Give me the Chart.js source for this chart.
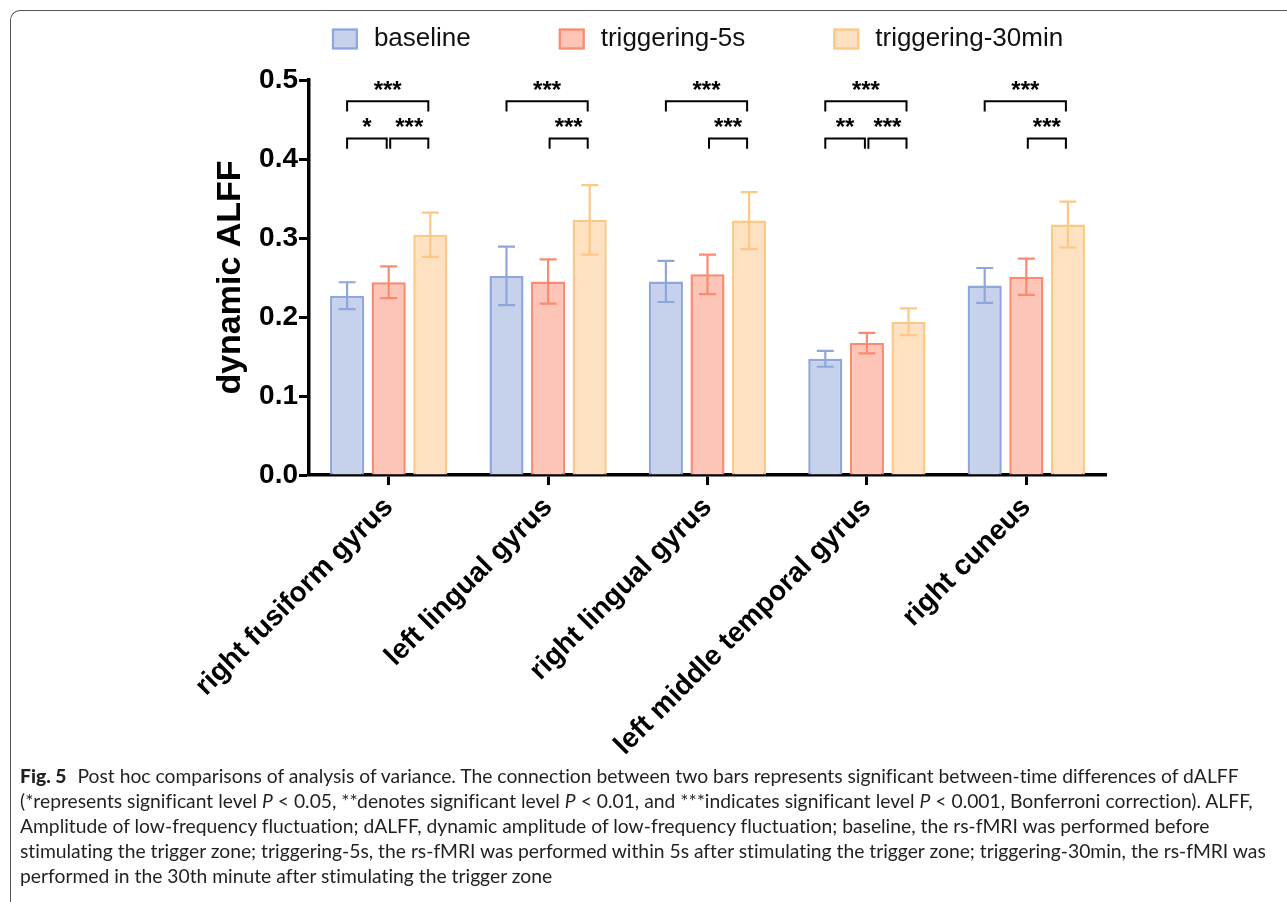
<!DOCTYPE html>
<html>
<head>
<meta charset="utf-8">
<script src="https://cdn.jsdelivr.net/npm/chart.js@4"></script>
<style>
  html, body { margin:0; padding:0; background:#fff; }
  body { width:1287px; height:902px; position:relative; overflow:hidden; }
  #frame { position:absolute; left:10px; top:10px; width:1300px; height:900px;
           border-top:1.5px solid #555; border-left:1.5px solid #555; border-top-left-radius:10px; border-bottom-left-radius:10px; }
  #wrap { position:absolute; left:0; top:0; width:1287px; height:770px; }
  #caption { position:absolute; left:20px; top:763px; font-family:Lato, "Liberation Sans", sans-serif;
             font-size:19.3px; line-height:25px; color:#231f20; white-space:nowrap;
             font-variant-ligatures:none; }
  #caption b { font-weight:900; margin-right:6px; }
</style>
</head>
<body>
<div id="frame"></div>
<div id="wrap"><canvas id="chart"></canvas></div>
<div id="caption">
<b>Fig. 5</b> Post hoc comparisons of analysis of variance. The connection between two bars represents significant between-time differences of dALFF<br>
(*represents significant level <i>P</i> &lt; 0.05, **denotes significant level <i>P</i> &lt; 0.01, and ***indicates significant level <i>P</i> &lt; 0.001, Bonferroni correction). ALFF,<br>
Amplitude of low-frequency fluctuation; dALFF, dynamic amplitude of low-frequency fluctuation; baseline, the rs-fMRI was performed before<br>
stimulating the trigger zone; triggering-5s, the rs-fMRI was performed within 5s after stimulating the trigger zone; triggering-30min, the rs-fMRI was<br>
performed in the 30th minute after stimulating the trigger zone
</div>
<script>
// ====== DATA ======
const categories = ['right fusiform gyrus', 'left lingual gyrus', 'right lingual gyrus', 'left middle temporal gyrus', 'right cuneus'];
const seriesNames = ['baseline', 'triggering-5s', 'triggering-30min'];

const baseline    = [0.227, 0.252, 0.245, 0.147, 0.240];
const baselineErr = [0.017, 0.037, 0.026, 0.010, 0.022];
const trig5s      = [0.244, 0.245, 0.254, 0.167, 0.251];
const trig5sErr   = [0.020, 0.028, 0.025, 0.013, 0.023];
const trig30      = [0.304, 0.323, 0.322, 0.194, 0.317];
const trig30Err   = [0.028, 0.044, 0.036, 0.017, 0.029];

const yTicks = [0.0, 0.1, 0.2, 0.3, 0.4, 0.5];

// significance brackets: group, from series, to series, level (0 top / 1 lower), label
const sigGroup = [0, 0, 0, 1, 1, 2, 2, 3, 3, 3, 4, 4];
const sigFrom  = [0, 0, 1, 0, 1, 0, 1, 0, 0, 1, 0, 1];
const sigTo    = [2, 1, 2, 2, 2, 2, 2, 2, 1, 2, 2, 2];
const sigLevel = [0, 1, 1, 0, 1, 0, 1, 0, 1, 1, 0, 1];
const sigLabel = ['***', '*', '***', '***', '***', '***', '***', '***', '**', '***', '***', '***'];
const bracketLevels = [0.473, 0.426];
const bracketDrop = 0.013;

// ====== STYLE ======
const fills   = ['#c6d2eb', '#fdc5b7', '#fde1c1'];
const borders = ['#8ea6dc', '#fb8a6f', '#fdc784'];
const errs    = [baselineErr, trig5sErr, trig30Err];

// ====== PLUGINS ======
const errorBars = {
  id: 'errorBars',
  afterDatasetsDraw(chart){
    const ctx = chart.ctx, ys = chart.scales.y;
    ctx.save();
    ctx.lineWidth = 2.2;
    chart.data.datasets.forEach((ds, i) => {
      const meta = chart.getDatasetMeta(i);
      ctx.strokeStyle = borders[i];
      meta.data.forEach((bar, j) => {
        const v = ds.data[j], e = errs[i][j];
        const yTop = ys.getPixelForValue(v + e), yBot = ys.getPixelForValue(v - e);
        const half = 8.5;
        ctx.beginPath();
        ctx.moveTo(bar.x, yTop); ctx.lineTo(bar.x, yBot);
        ctx.moveTo(bar.x - half, yTop); ctx.lineTo(bar.x + half, yTop);
        ctx.moveTo(bar.x - half, yBot); ctx.lineTo(bar.x + half, yBot);
        ctx.stroke();
      });
    });
    ctx.restore();
  }
};

const brackets = {
  id: 'brackets',
  afterDraw(chart){
    const ctx = chart.ctx, ys = chart.scales.y;
    ctx.save();
    ctx.strokeStyle = '#000';
    ctx.fillStyle = '#000';
    ctx.lineWidth = 2;
    ctx.font = 'bold 24px "Liberation Sans", Arial, sans-serif';
    ctx.textAlign = 'center';
    ctx.textBaseline = 'alphabetic';
    sigGroup.forEach((g, k) => {
      const a = chart.getDatasetMeta(sigFrom[k]).data[g].x;
      const b = chart.getDatasetMeta(sigTo[k]).data[g].x;
      const x1 = a + (sigFrom[k] > 0 ? 1.5 : 0), x2 = b - 2;
      const lv = bracketLevels[sigLevel[k]];
      const yLine = ys.getPixelForValue(lv), yEnd = ys.getPixelForValue(lv - bracketDrop);
      ctx.beginPath();
      ctx.moveTo(x1, yEnd); ctx.lineTo(x1, yLine); ctx.lineTo(x2, yLine); ctx.lineTo(x2, yEnd);
      ctx.stroke();
      ctx.fillText(sigLabel[k], (x1 + x2) / 2, yLine - 3);
    });
    ctx.restore();
  }
};

const topLegend = {
  id: 'topLegend',
  afterDraw(chart){
    const ctx = chart.ctx;
    ctx.save();
    ctx.font = '26px "Liberation Sans", Arial, sans-serif';
    ctx.textBaseline = 'middle';
    const boxW = 26, boxH = 21, txtGap = 16, gap = 88;
    const widths = seriesNames.map(s => boxW + txtGap + ctx.measureText(s).width);
    const total = widths.reduce((a, b) => a + b, 0) + gap * (widths.length - 1);
    let x = (chart.chartArea.left + chart.chartArea.right) / 2 - total / 2 - 10;
    const yMid = 39;
    seriesNames.forEach((s, i) => {
      ctx.fillStyle = fills[i];
      ctx.fillRect(x, yMid - boxH / 2, boxW, boxH);
      ctx.strokeStyle = borders[i];
      ctx.lineWidth = 2.2;
      ctx.strokeRect(x + 1.1, yMid - boxH / 2 + 1.1, boxW - 2.2, boxH - 2.2);
      ctx.fillStyle = '#111';
      ctx.fillText(s, x + boxW + txtGap, yMid);
      x += widths[i] + gap;
    });
    ctx.restore();
  }
};

// ====== CHART ======
const datasets = [baseline, trig5s, trig30].map((d, i) => ({
  label: seriesNames[i],
  data: d,
  backgroundColor: fills[i],
  borderColor: borders[i],
  borderWidth: 2.5,
  categoryPercentage: 0.783,
  barPercentage: 0.82
}));

new Chart(document.getElementById('chart'), {
  type: 'bar',
  data: { labels: categories, datasets },
  options: {
    responsive: true,
    maintainAspectRatio: false,
    animation: false,
    devicePixelRatio: 1,
    layout: { padding: { top: 80, right: 181, left: 0, bottom: 0 } },
    plugins: { legend: { display: false }, tooltip: { enabled: false } },
    scales: {
      x: {
        z: 1,
        afterFit: s => { s.height = 295; },
        grid: { offset: false, drawOnChartArea: false, drawTicks: true, tickLength: 10, tickWidth: 3, tickColor: '#000' },
        border: { display: true, color: '#000', width: 3.5 },
        ticks: {
          color: '#000', minRotation: 45, maxRotation: 45, autoSkip: false, padding: 6,
          font: { family: '"Liberation Sans", Arial, sans-serif', size: 28, weight: 'bold' }
        }
      },
      y: {
        z: 1,
        min: 0, max: 0.5,
        afterFit: s => { s.width = 309; },
        afterBuildTicks: s => { s.ticks = yTicks.map(v => ({ value: v })); },
        grid: { drawOnChartArea: false, drawTicks: true, tickLength: 10, tickWidth: 3, tickColor: '#000' },
        border: { display: true, color: '#000', width: 3.5 },
        ticks: {
          color: '#000', padding: 1,
          font: { family: '"Liberation Sans", Arial, sans-serif', size: 28, weight: 'bold' },
          callback: v => Number(v).toFixed(1)
        },
        title: {
          display: true, text: 'dynamic ALFF', color: '#000',
          font: { family: '"Liberation Sans", Arial, sans-serif', size: 34, weight: 'bold' },
          padding: { top: 210, bottom: 0 }
        }
      }
    }
  },
  plugins: [errorBars, brackets, topLegend]
});
</script>
</body>
</html>
